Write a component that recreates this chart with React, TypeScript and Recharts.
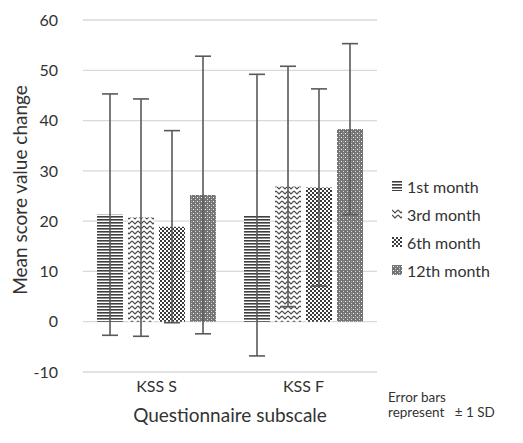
import { BarChart, Bar, XAxis, YAxis, CartesianGrid, Legend, ErrorBar } from "recharts"

const categories = ["KSS S", "KSS F"]
const seriesNames = ["1st month", "3rd month", "6th month", "12th month"]
const month1 = [21.3, 21.2]
const month3 = [20.7, 26.9]
const month6 = [18.9, 26.7]
const month12 = [25.2, 38.3]
const sd1 = [24.0, 28.0]
const sd3 = [23.6, 23.9]
const sd6 = [19.1, 19.6]
const sd12 = [27.6, 17.0]
const yTicks = [-10, 0, 10, 20, 30, 40, 50, 60]

const FONT = "Lato, 'Open Sans', sans-serif"
const TEXT = "#333333"
const ERR = "#595959"

const chartData = categories.map((name, i) => ({
    name,
    m1: month1[i],
    m3: month3[i],
    m6: month6[i],
    m12: month12[i],
    e1: sd1[i],
    e3: sd3[i],
    e6: sd6[i],
    e12: sd12[i],
}))

const series = [
    { key: "m1", err: "e1", fill: "url(#pStripes)" },
    { key: "m3", err: "e3", fill: "url(#pZigzag)" },
    { key: "m6", err: "e6", fill: "url(#pChecker)" },
    { key: "m12", err: "e12", fill: "url(#pDots)" },
]

function Patterns() {
    return (
        <defs>
            <pattern id="pStripes" width="4" height="3" patternUnits="userSpaceOnUse">
                <rect width="4" height="3" fill="#ffffff" />
                <rect width="4" height="1.6" fill="#3f3f3f" />
            </pattern>
            <pattern id="pZigzag" width="6" height="5" patternUnits="userSpaceOnUse">
                <rect width="6" height="5" fill="#ffffff" />
                <path d="M0 1 L3 4 L6 1" fill="none" stroke="#4a4a4a" strokeWidth="1.2" />
            </pattern>
            <pattern id="pChecker" width="4" height="4" patternUnits="userSpaceOnUse">
                <rect width="4" height="4" fill="#ffffff" />
                <rect width="2" height="2" fill="#3a3a3a" />
                <rect x="2" y="2" width="2" height="2" fill="#3a3a3a" />
            </pattern>
            <pattern id="pDots" width="4" height="4" patternUnits="userSpaceOnUse">
                <rect width="4" height="4" fill="#747474" />
                <rect x="1" y="1" width="1" height="1" fill="#f4f4f4" />
                <rect x="3" y="3" width="1" height="1" fill="#d6d6d6" />
                <rect x="3" y="1" width="1" height="1" fill="#a0a0a0" />
            </pattern>
        </defs>
    )
}

function LegendBox() {
    return (
        <div style={{ fontFamily: FONT, fontSize: 16, color: TEXT }}>
            {series.map((s, i) => (
                <div key={s.key} style={{ display: "flex", alignItems: "center", height: 28 }}>
                    <svg width={10} height={10} style={{ marginRight: 5 }}>
                        <rect width={10} height={10} fill={s.fill} />
                    </svg>
                    <span>{seriesNames[i]}</span>
                </div>
            ))}
        </div>
    )
}

function YTitle() {
    return (
        <text
            x={19}
            y={190}
            transform="rotate(-90 19 190)"
            textAnchor="middle"
            dominantBaseline="central"
            fontFamily={FONT}
            fontSize={19}
            fill={TEXT}
        >
            Mean score value change
        </text>
    )
}

export default function App() {
    return (
        <div style={{ position: "relative", width: 523, height: 443, margin: -8, background: "#fff" }}>
            <BarChart
                width={523}
                height={443}
                data={chartData}
                margin={{ top: 20, right: 16, bottom: 19, left: 0 }}
                barSize={26}
                barGap={5}
            >
                <Patterns />
                <CartesianGrid vertical={false} stroke="#d9d9d9" strokeWidth={1.3} />
                <XAxis
                    dataKey="name"
                    axisLine={false}
                    tickLine={false}
                    tickSize={0}
                    tickMargin={9}
                    height={52}
                    tick={{ fontFamily: FONT, fontSize: 16, fill: TEXT }}
                    label={{
                        value: "Questionnaire subscale",
                        position: "insideBottom",
                        offset: 2,
                        style: { fontFamily: FONT, fontSize: 19, fill: TEXT },
                    }}
                />
                <YAxis
                    domain={[-10, 60]}
                    ticks={yTicks}
                    interval={0}
                    axisLine={false}
                    tickLine={false}
                    tickSize={0}
                    tickMargin={25}
                    width={83}
                    tick={{ fontFamily: FONT, fontSize: 16, fill: TEXT }}
                    label={<YTitle />}
                />
                <Legend
                    layout="vertical"
                    align="right"
                    verticalAlign="middle"
                    content={<LegendBox />}
                    wrapperStyle={{ width: 130, left: 392, top: 172 }}
                />
                {series.map((s, i) => (
                    <Bar key={s.key} dataKey={s.key} name={seriesNames[i]} fill={s.fill} isAnimationActive={false}>
                        <ErrorBar dataKey={s.err} width={8} stroke={ERR} strokeWidth={1.6} />
                    </Bar>
                ))}
            </BarChart>
            <div
                style={{
                    position: "absolute",
                    left: 388,
                    top: 390,
                    fontFamily: FONT,
                    fontSize: 13.5,
                    lineHeight: "15px",
                    color: TEXT,
                }}
            >
                <div>Error bars</div>
                <div>represent&nbsp;&nbsp; ± 1 SD</div>
            </div>
        </div>
    )
}
